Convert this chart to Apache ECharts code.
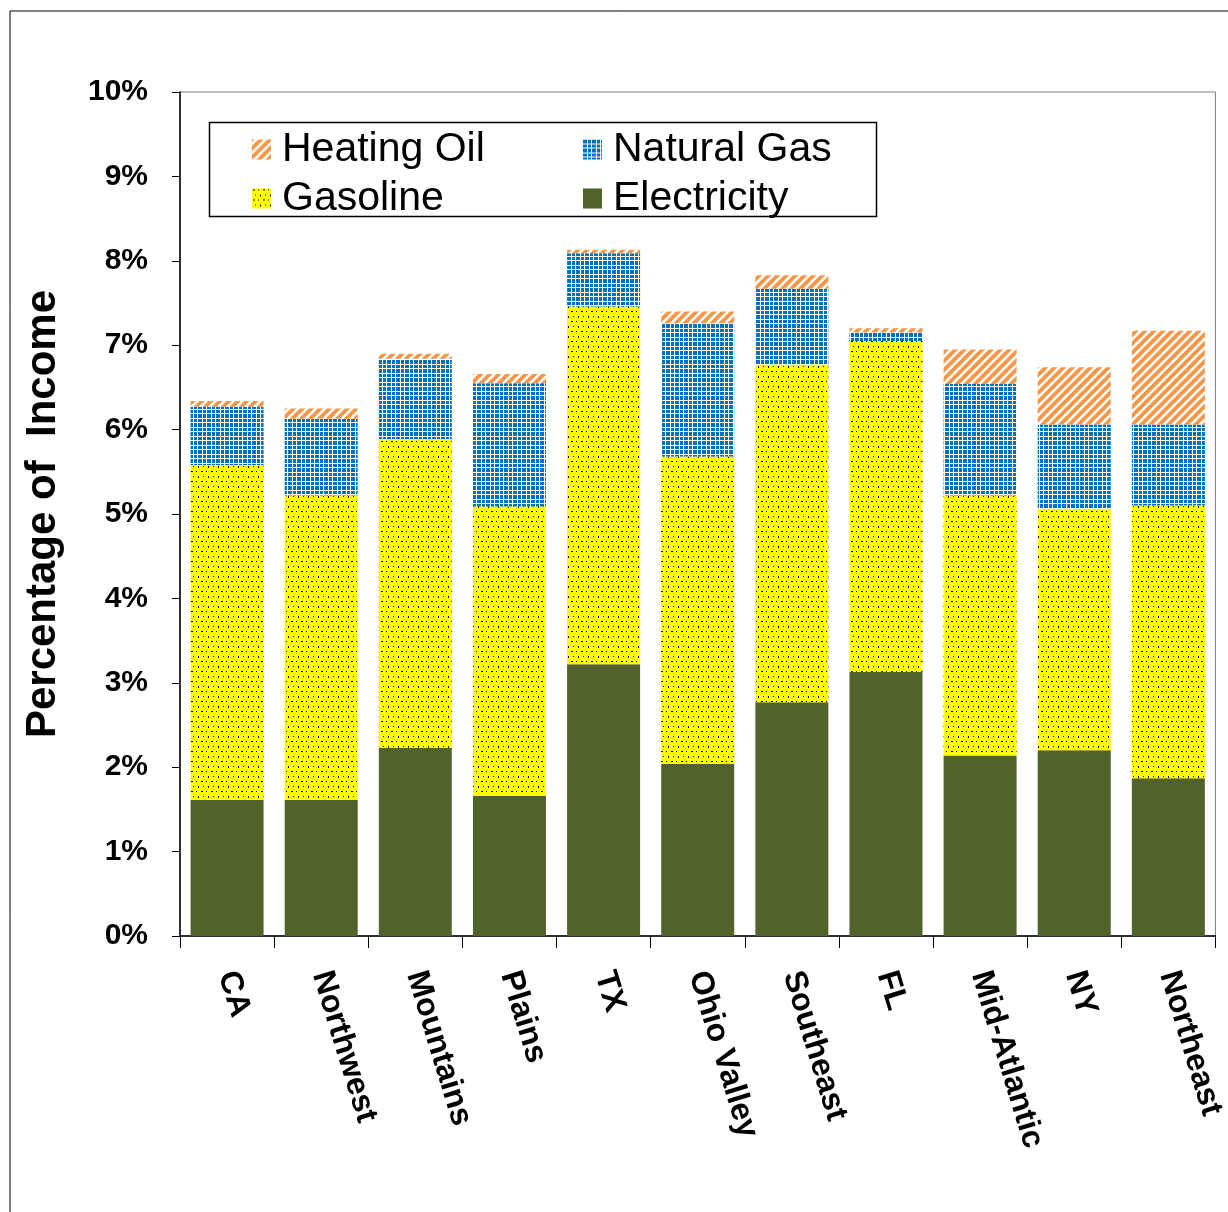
<!DOCTYPE html>
<html>
<head>
<meta charset="utf-8">
<script src="https://cdn.jsdelivr.net/npm/echarts@6/dist/echarts.min.js"></script>
<style>
  html, body { margin: 0; padding: 0; background: #fff; }
  #main { width: 1228px; height: 1212px; }
</style>
</head>
<body>
<div id="main"></div>
<script>
// 地区和各项能源支出占收入比例（%）
var regions = ['CA', 'Northwest', 'Mountains', 'Plains', 'TX', 'Ohio Valley', 'Southeast', 'FL', 'Mid-Atlantic', 'NY', 'Northeast'];
var electricity = [1.61, 1.61, 2.23, 1.66, 3.22, 2.04, 2.77, 3.13, 2.14, 2.20, 1.87];
var gasoline = [3.97, 3.61, 3.66, 3.43, 4.24, 3.64, 4.00, 3.92, 3.08, 2.86, 3.23];
var naturalGas = [0.69, 0.91, 0.95, 1.46, 0.63, 1.58, 0.90, 0.10, 1.32, 1.00, 0.96];
var heatingOil = [0.07, 0.12, 0.06, 0.11, 0.04, 0.14, 0.16, 0.05, 0.41, 0.68, 1.11];
var yTicks = [0, 1, 2, 3, 4, 5, 6, 7, 8, 9, 10];

var FONT = '"Liberation Sans", Arial, sans-serif';

// 填充图案
function makeTile(w, h, draw) {
  var c = document.createElement('canvas');
  c.width = w; c.height = h;
  draw(c.getContext('2d'), w, h);
  return c;
}
var dotTile = makeTile(10, 10, function(ctx, w, h){
  ctx.fillStyle = '#ffff00'; ctx.fillRect(0, 0, w, h);
  ctx.fillStyle = '#000';
  ctx.fillRect(1, 1, 2, 1);
  ctx.fillRect(6, 1, 1, 1);
  ctx.fillRect(3, 6, 1, 1);
  ctx.fillRect(8, 6, 1, 2);
});
var gridTile = makeTile(9, 9, function(ctx, w, h){
  ctx.fillStyle = '#ffffff'; ctx.fillRect(0, 0, w, h);
  ctx.fillStyle = '#0070c0';
  ctx.fillRect(0, 0, 4, 4); ctx.fillRect(5, 0, 3, 4);
  ctx.fillRect(0, 5, 4, 3); ctx.fillRect(5, 5, 3, 3);
});
var stripeTile = makeTile(9, 9, function(ctx, w, h){
  ctx.fillStyle = '#ffffff'; ctx.fillRect(0, 0, w, h);
  ctx.strokeStyle = '#f79646'; ctx.lineWidth = 3.8;
  ctx.beginPath();
  for (var k = -1; k <= 1; k++) {
    ctx.moveTo(k * w - 1, h + 1);
    ctx.lineTo(k * w + w + 1, -1);
  }
  ctx.stroke();
});

var chart = echarts.init(document.getElementById('main'));

function barSeries(name, data, color) {
  return {
    name: name,
    type: 'bar',
    stack: 'total',
    barWidth: 73,
    data: data,
    itemStyle: { color: color },
    emphasis: { disabled: true }
  };
}

var legendText = { fontFamily: FONT, fontSize: 41, color: '#000', lineHeight: 38, padding: [0, 0, 0, 6] };

chart.setOption({
  animation: false,
  backgroundColor: '#fff',
  graphic: [
    { type: 'rect', shape: { x: 10, y: 11, width: 1240, height: 1230 }, style: { fill: 'none', stroke: '#000', lineWidth: 1 }, z: -10 },
    { type: 'rect', shape: { x: 209.5, y: 122.5, width: 667, height: 94 }, style: { fill: '#fff', stroke: '#000', lineWidth: 1.5 }, z: 5 }
  ],
  grid: { left: 180, top: 92, right: 8, bottom: 276, show: true, borderColor: '#808080', borderWidth: 1 },
  legend: [
    {
      data: ['Heating Oil', 'Gasoline'],
      orient: 'vertical', left: 247, top: 124, itemGap: 8, icon: 'rect',
      itemWidth: 19, itemHeight: 20, textStyle: legendText, z: 10
    },
    {
      data: ['Natural Gas', 'Electricity'],
      orient: 'vertical', left: 578, top: 124, itemGap: 8, icon: 'rect',
      itemWidth: 19, itemHeight: 20, textStyle: legendText, z: 10
    }
  ],
  xAxis: {
    type: 'category',
    data: regions,
    axisLine: { lineStyle: { color: '#000', width: 1.5 } },
    axisTick: { show: true, length: 12, lineStyle: { color: '#000' } },
    axisLabel: {
      rotate: -73, margin: 36, fontFamily: FONT, fontSize: 32, fontWeight: 'bold', color: '#000',
      interval: 0
    }
  },
  yAxis: {
    type: 'value',
    min: yTicks[0], max: yTicks[yTicks.length - 1], interval: 1,
    name: 'Percentage of  Income',
    nameLocation: 'middle', nameGap: 116, nameRotate: 90,
    nameTextStyle: { fontFamily: FONT, fontSize: 42, fontWeight: 'bold', color: '#000' },
    splitLine: { show: false },
    axisLine: { show: true, lineStyle: { color: '#000', width: 1.5 } },
    axisTick: { show: true, length: 8, lineStyle: { color: '#000' } },
    axisLabel: {
      formatter: '{value}%', margin: 32, fontFamily: FONT, fontSize: 30, fontWeight: 'bold', color: '#000'
    }
  },
  series: [
    barSeries('Electricity', electricity, '#52622b'),
    barSeries('Gasoline', gasoline, { image: dotTile, repeat: 'repeat' }),
    barSeries('Natural Gas', naturalGas, { image: gridTile, repeat: 'repeat' }),
    barSeries('Heating Oil', heatingOil, { image: stripeTile, repeat: 'repeat' })
  ]
});
</script>
</body>
</html>
